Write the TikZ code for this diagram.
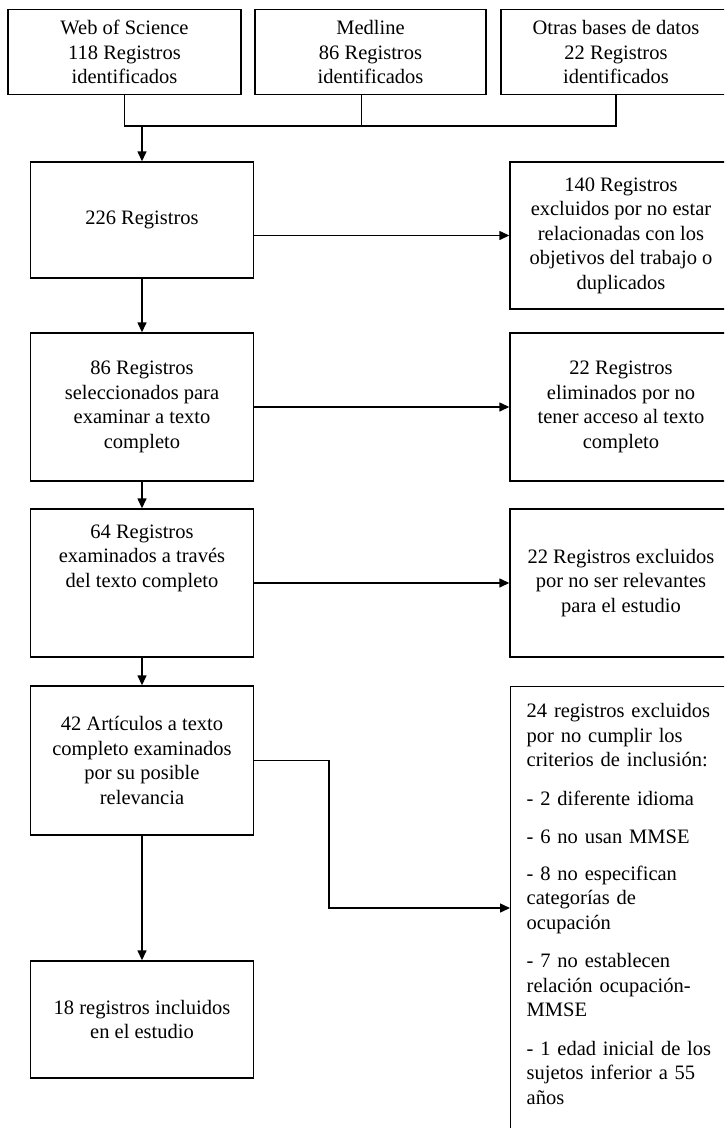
\documentclass[tikz,border=0pt]{standalone}
\usepackage{fontspec}
\setmainfont{Liberation Serif}
\usetikzlibrary{arrows.meta}

\begin{document}
\begin{tikzpicture}[x=1pt,y=-1pt,
    box/.style={draw,line width=1.4pt,align=center,inner sep=4pt,font=\fontsize{20.5}{24.5}\selectfont},
    mainbox/.style={box,minimum width=223pt,minimum height=148pt},
    sidebox/.style={box,minimum width=222pt,minimum height=148pt},
    link/.style={line width=1.4pt},
    arr/.style={line width=1.4pt,-{Triangle[length=10pt,width=9pt]}}]
\useasboundingbox (0,0) rectangle (724,1128);
\clip (0,0) rectangle (724,1128);
% bases de datos
\node[box,minimum width=233pt,minimum height=85pt] (web) at (124.5,52) {Web of Science\\118 Registros\\identificados};
\node[box,minimum width=231pt,minimum height=85pt] (med) at (370.5,52) {Medline\\86 Registros\\identificados};
\node[box,minimum width=230pt,minimum height=85pt] (otras) at (616,52) {Otras bases de datos\\22 Registros\\identificados};
% columna principal
\node[mainbox,minimum height=116pt] (b226) at (142,220) {226 Registros};
\node[mainbox] (b86) at (142,407) {86 Registros\\seleccionados para\\examinar a texto\\completo};
\node[mainbox] (b64) at (142,583) {64 Registros\\examinados a través\\del texto completo\\[30pt]\mbox{}};
\node[mainbox,minimum height=149pt] (b42) at (142,760.5) {42 Artículos a texto\\completo examinados\\por su posible\\relevancia};
\node[mainbox,minimum height=117pt] (b18) at (142,1019.5) {18 registros incluidos\\en el estudio};
% excluidos
\node[sidebox,minimum height=147pt] (e140) at (621,235.5) {140 Registros\\excluidos por no estar\\relacionadas con los\\objetivos del trabajo o\\duplicados};
\node[sidebox] (e22a) at (621,407) {22 Registros\\eliminados por no\\tener acceso al texto\\completo};
\node[sidebox] (e22b) at (621,583) {22 Registros excluidos\\por no ser relevantes\\para el estudio};
\node[box,anchor=north west,align=left,text width=190pt,inner xsep=16pt,inner ysep=17pt] (e24) at (510,686)
    {24 registros excluidos\\por no cumplir los\\criterios de inclusión:\\[14pt]
     - 2 diferente idioma\\[14pt]
     - 6 no usan MMSE\\[12pt]
     - 8 no especifican\\categorías de\\ocupación\\[14pt]
     - 7 no establecen\\relación ocupación-\\MMSE\\[14pt]
     - 1 edad inicial de los\\sujetos inferior a 55\\años\\ \mbox{}};
% conexiones
\coordinate (bus) at (0,126);
\coordinate (bend) at (329,908);
\draw[link] (web.south) |- (bus -| otras.south) -- (otras.south);
\draw[link] ([xshift=-9pt]med.south) -- ([xshift=-9pt]med.south |- bus);
\draw[arr] (bus -| b226.north) -- (b226.north);
\foreach \a/\b in {b226/b86,b86/b64,b64/b42,b42/b18}
    \draw[arr] (\a.south) -- (\b.north);
\foreach \a/\b in {b226/e140,b86/e22a,b64/e22b}
    \draw[arr] (\a.east |- \b.west) -- (\b.west);
\draw[arr] (b42.east) -| (bend) -- (bend -| e24.west);
\end{tikzpicture}
\end{document}
